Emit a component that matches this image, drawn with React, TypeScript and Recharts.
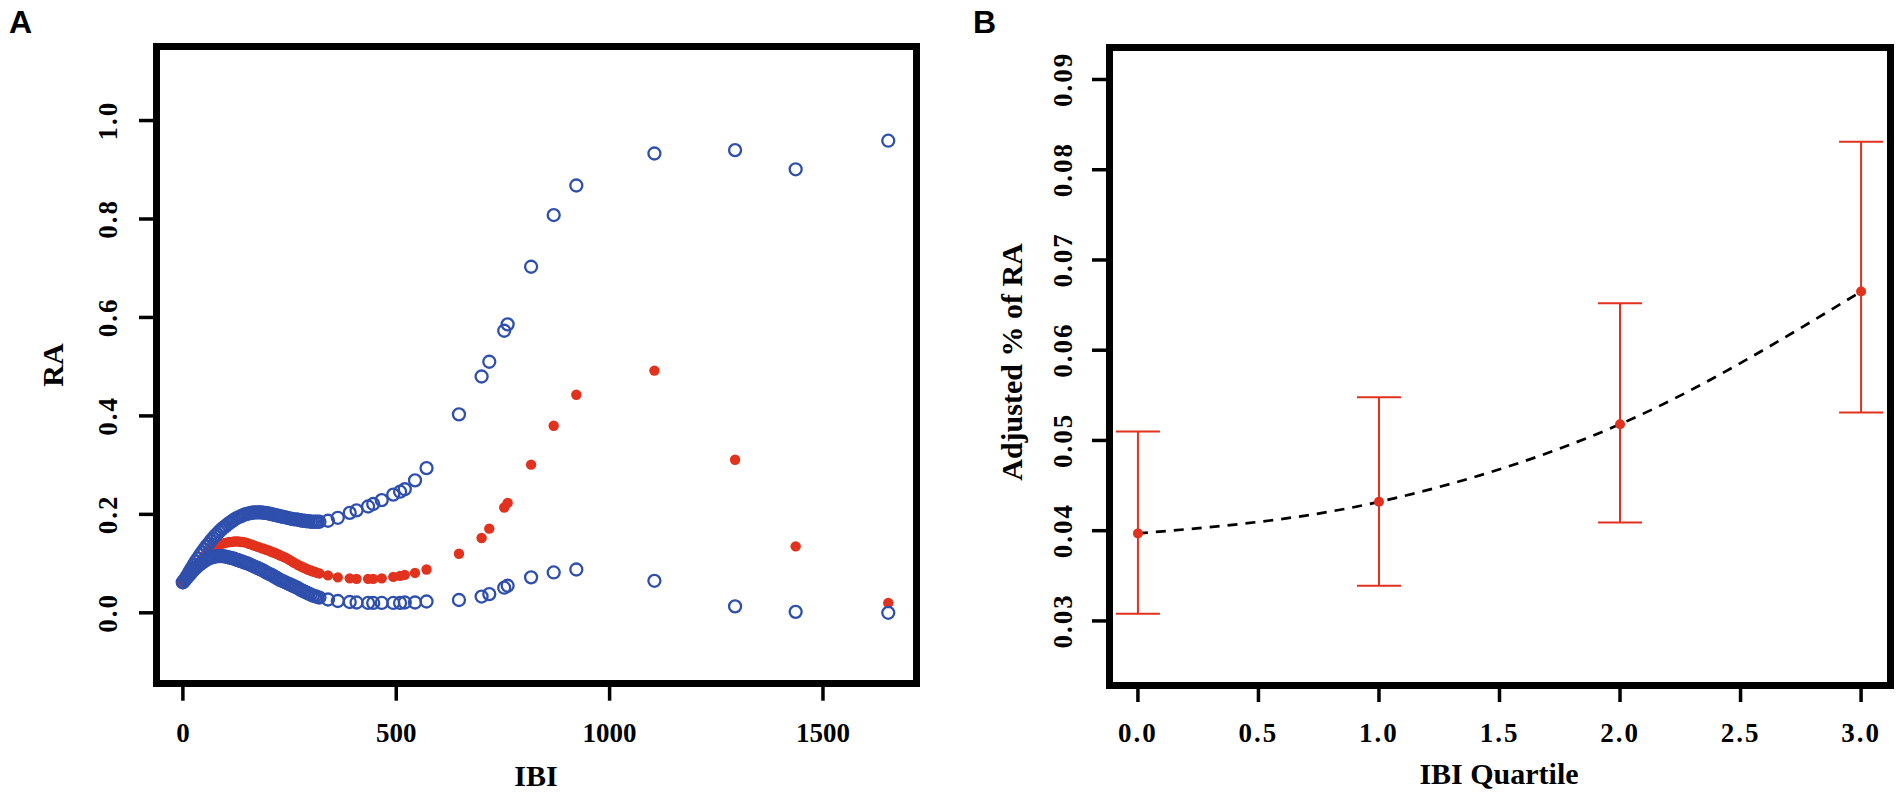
import React from "react"
import { ScatterChart, Scatter, ComposedChart, Line, XAxis, YAxis, ErrorBar } from "recharts"

// ---- panel A: RA vs IBI (estimate + confidence band as points) ----
const IBI_DENSE = [
	0, 5, 10, 15, 20, 25, 30, 35, 40, 45, 50, 55, 60, 65, 70, 75, 80, 85, 90, 95, 100, 105, 110, 115, 120, 125, 130, 135, 140, 145,
	150, 155, 160, 165, 170, 175, 180, 185, 190, 195, 200, 205, 210, 215, 220, 225, 230, 235, 240, 245, 250, 255, 260, 265, 270, 275,
	280, 285, 290, 295, 300, 305, 310, 315, 320
]
const UPPER_DENSE = [
	0.062, 0.068, 0.075, 0.083, 0.09, 0.097, 0.104, 0.11, 0.117, 0.123, 0.129, 0.135, 0.14, 0.146, 0.151, 0.156, 0.16, 0.165, 0.169,
	0.173, 0.176, 0.18, 0.183, 0.186, 0.189, 0.192, 0.194, 0.196, 0.198, 0.2, 0.201, 0.202, 0.203, 0.204, 0.204, 0.204, 0.204, 0.204,
	0.203, 0.203, 0.202, 0.201, 0.2, 0.199, 0.198, 0.197, 0.196, 0.195, 0.194, 0.193, 0.192, 0.191, 0.19, 0.19, 0.189, 0.188, 0.187,
	0.187, 0.186, 0.186, 0.185, 0.185, 0.185, 0.185, 0.185
]
const EST_DENSE = [
	0.062, 0.067, 0.073, 0.078, 0.083, 0.088, 0.094, 0.099, 0.104, 0.11, 0.115, 0.12, 0.125, 0.129, 0.132, 0.135, 0.137, 0.139, 0.14,
	0.141, 0.142, 0.143, 0.144, 0.144, 0.145, 0.145, 0.145, 0.144, 0.144, 0.143, 0.142, 0.14, 0.139, 0.137, 0.136, 0.134, 0.133, 0.131,
	0.13, 0.128, 0.127, 0.125, 0.123, 0.122, 0.12, 0.118, 0.116, 0.114, 0.112, 0.11, 0.107, 0.105, 0.102, 0.1, 0.097, 0.095, 0.093,
	0.091, 0.089, 0.087, 0.086, 0.084, 0.083, 0.081, 0.08
]
const LOWER_DENSE = [
	0.062, 0.067, 0.072, 0.077, 0.082, 0.087, 0.091, 0.095, 0.099, 0.102, 0.105, 0.108, 0.11, 0.112, 0.113, 0.114, 0.115, 0.115, 0.115,
	0.115, 0.114, 0.113, 0.112, 0.111, 0.11, 0.108, 0.107, 0.105, 0.104, 0.102, 0.101, 0.099, 0.097, 0.095, 0.093, 0.091, 0.089, 0.087,
	0.085, 0.082, 0.08, 0.078, 0.076, 0.073, 0.071, 0.068, 0.066, 0.064, 0.062, 0.06, 0.058, 0.056, 0.054, 0.052, 0.05, 0.047, 0.045,
	0.043, 0.041, 0.039, 0.037, 0.035, 0.034, 0.032, 0.031
]

const IBI_SPARSE = [340, 363, 391, 407, 434, 446, 466, 493, 509, 520, 544, 571, 647, 700, 718, 753, 761, 816, 869, 922, 1105, 1294, 1436, 1653]
const UPPER_SPARSE = [
	0.187, 0.193, 0.203, 0.208, 0.216, 0.221, 0.229, 0.24, 0.246, 0.251, 0.269, 0.294, 0.403, 0.48, 0.51, 0.573, 0.586, 0.703, 0.808,
	0.868, 0.933, 0.94, 0.901, 0.959
]
const EST_SPARSE = [
	0.076, 0.072, 0.07, 0.069, 0.069, 0.069, 0.07, 0.073, 0.075, 0.077, 0.081, 0.088, 0.12, 0.152, 0.171, 0.214, 0.223, 0.301, 0.38,
	0.443, 0.492, 0.311, 0.135, 0.02
]
const LOWER_SPARSE = [
	0.027, 0.024, 0.022, 0.021, 0.02, 0.02, 0.02, 0.02, 0.02, 0.021, 0.021, 0.023, 0.026, 0.033, 0.038, 0.051, 0.055, 0.072, 0.082,
	0.088, 0.065, 0.013, 0.002, 0.0
]

const A_X_TICKS = [0, 500, 1000, 1500]
const A_Y_TICKS = [0, 0.2, 0.4, 0.6, 0.8, 1.0]

// ---- panel B: adjusted % of RA by IBI quartile ----
const QUARTILES = [0, 1, 2, 3]
const ADJ_EST = [0.0397, 0.0432, 0.0518, 0.0665]
const ADJ_LOW = [0.0308, 0.0339, 0.0409, 0.0531]
const ADJ_HIGH = [0.051, 0.0548, 0.0652, 0.0831]

const B_X_TICKS = [0, 0.5, 1, 1.5, 2, 2.5, 3]
const B_Y_TICKS = [0.03, 0.04, 0.05, 0.06, 0.07, 0.08, 0.09]

const BLUE = "#2f4fad"
const RED = "#e2311d"
const SERIF = "'Liberation Serif', 'Times New Roman', serif"

// axis band sizes (kept inside the margins so the plot area lands on the frame)
const AX_H = 60
const AX_W = 60

const toPoints = (xs: number[], ys: number[]) => xs.map((x, i) => ({ x, y: ys[i] }))

const upperPts = [...toPoints(IBI_DENSE, UPPER_DENSE), ...toPoints(IBI_SPARSE, UPPER_SPARSE)]
const estPts = [...toPoints(IBI_DENSE, EST_DENSE), ...toPoints(IBI_SPARSE, EST_SPARSE)]
const lowerPts = [...toPoints(IBI_DENSE, LOWER_DENSE), ...toPoints(IBI_SPARSE, LOWER_SPARSE)]

const quartileData = QUARTILES.map((q, i) => ({
	q,
	est: ADJ_EST[i],
	err: [ADJ_EST[i] - ADJ_LOW[i], ADJ_HIGH[i] - ADJ_EST[i]]
}))

const openCircle = (p: any) => <circle cx={p.cx} cy={p.cy} r={6} fill="none" stroke={BLUE} strokeWidth={2.3} />
const redDot = (p: any) => <circle cx={p.cx} cy={p.cy} r={5.2} fill={RED} />
const quartDot = (p: any) => <circle cx={p.cx} cy={p.cy} r={5} fill={RED} />

const tickLine = { stroke: "#000", strokeWidth: 3.5 }

function makeXTick(fmt: (v: number) => string, spacing: number) {
	return (p: any) => (
		<text x={p.x} y={742} textAnchor="middle" fontFamily={SERIF} fontWeight="bold" fontSize={27} letterSpacing={spacing} fill="#000">
			{fmt(p.payload.value)}
		</text>
	)
}

function makeYTick(baseX: number, fmt: (v: number) => string) {
	return (p: any) => (
		<text
			x={baseX}
			y={p.y}
			transform={`rotate(-90, ${baseX}, ${p.y})`}
			textAnchor="middle"
			fontFamily={SERIF}
			fontWeight="bold"
			fontSize={27}
			letterSpacing={2}
			fill="#000"
		>
			{fmt(p.payload.value)}
		</text>
	)
}

const frame = (left: number, top: number, right: number, bottom: number): React.CSSProperties => ({
	position: "absolute",
	left: left - 3.5,
	top: top - 3.5,
	width: right - left + 7,
	height: bottom - top + 7,
	border: "7px solid #000",
	boxSizing: "border-box",
	pointerEvents: "none"
})

export default function App() {
	return (
		<div style={{ position: "absolute", left: 0, top: 0, width: 1902, height: 797, background: "#fff", overflow: "hidden" }}>
			{/* panel A */}
			<div style={{ position: "absolute", left: 0, top: 0 }}>
				<ScatterChart width={960} height={797} margin={{ top: 46.7, right: 44, bottom: 113.3 - AX_H, left: 156 - AX_W }}>
					<XAxis
						type="number"
						dataKey="x"
						domain={[-63, 1718]}
						allowDataOverflow
						ticks={A_X_TICKS}
						interval={0}
						height={AX_H}
						axisLine={false}
						tickSize={17}
						tickLine={tickLine}
						tick={makeXTick((v) => String(v), 0)}
					/>
					<YAxis
						type="number"
						dataKey="y"
						domain={[-0.144, 1.15]}
						allowDataOverflow
						ticks={A_Y_TICKS}
						interval={0}
						width={AX_W}
						axisLine={false}
						tickSize={17}
						tickLine={tickLine}
						tick={makeYTick(117, (v) => v.toFixed(1))}
					/>
					<Scatter data={estPts} shape={redDot} isAnimationActive={false} />
					<Scatter data={upperPts} shape={openCircle} isAnimationActive={false} />
					<Scatter data={lowerPts} shape={openCircle} isAnimationActive={false} />
				</ScatterChart>
			</div>
			<div style={frame(156, 46.7, 916, 683.7)} />

			{/* panel B */}
			<div style={{ position: "absolute", left: 960, top: 0 }}>
				<ComposedChart
					width={942}
					height={797}
					data={quartileData}
					margin={{ top: 47, right: 12, bottom: 112 - AX_H, left: 149 - AX_W }}
				>
					<XAxis
						type="number"
						dataKey="q"
						domain={[-0.12, 3.12]}
						allowDataOverflow
						ticks={B_X_TICKS}
						interval={0}
						height={AX_H}
						axisLine={false}
						tickSize={17}
						tickLine={tickLine}
						tick={makeXTick((v) => v.toFixed(1), 2)}
					/>
					<YAxis
						type="number"
						domain={[0.0229, 0.0936]}
						allowDataOverflow
						ticks={B_Y_TICKS}
						interval={0}
						width={AX_W}
						axisLine={false}
						tickSize={17}
						tickLine={tickLine}
						tick={makeYTick(112, (v) => v.toFixed(2))}
					/>
					<Scatter dataKey="est" shape={quartDot} isAnimationActive={false}>
						<ErrorBar dataKey="err" direction="y" width={22} stroke={RED} strokeWidth={2} isAnimationActive={false} />
					</Scatter>
					<Line
						dataKey="est"
						type="monotone"
						stroke="#000"
						strokeWidth={2.7}
						strokeDasharray="10 8"
						dot={false}
						activeDot={false}
						isAnimationActive={false}
					/>
				</ComposedChart>
			</div>
			<div style={frame(1109, 47, 1890, 685)} />

			{/* titles and panel letters */}
			<svg width={1902} height={797} style={{ position: "absolute", left: 0, top: 0, pointerEvents: "none" }}>
				<text x={9} y={33} fontFamily="'Liberation Sans', Arial, sans-serif" fontWeight="bold" fontSize={32}>
					A
				</text>
				<text x={973} y={33} fontFamily="'Liberation Sans', Arial, sans-serif" fontWeight="bold" fontSize={32}>
					B
				</text>
				<text x={536} y={786} textAnchor="middle" fontFamily={SERIF} fontWeight="bold" fontSize={30}>
					IBI
				</text>
				<text x={1499} y={784} textAnchor="middle" fontFamily={SERIF} fontWeight="bold" fontSize={30}>
					IBI Quartile
				</text>
				<text x={63} y={365} transform="rotate(-90, 63, 365)" textAnchor="middle" fontFamily={SERIF} fontWeight="bold" fontSize={30}>
					RA
				</text>
				<text
					x={1022}
					y={362}
					transform="rotate(-90, 1022, 362)"
					textAnchor="middle"
					fontFamily={SERIF}
					fontWeight="bold"
					fontSize={30}
				>
					Adjusted % of RA
				</text>
			</svg>
		</div>
	)
}
